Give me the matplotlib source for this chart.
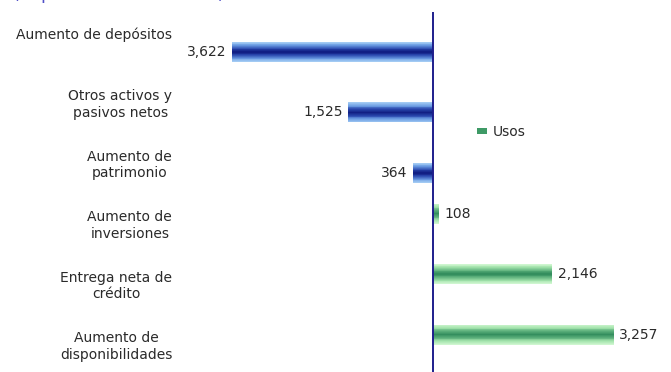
import matplotlib
matplotlib.use("Agg")
import matplotlib.pyplot as plt
from matplotlib.colors import LinearSegmentedColormap
from matplotlib.patches import Patch
import numpy as np

# Categories (top to bottom)
categories = [
    "Aumento de depósitos",
    "Otros activos y\npasivos netos",
    "Aumento de\npatrimonio",
    "Aumento de\ninversiones",
    "Entrega neta de\ncrédito",
    "Aumento de\ndisponibilidades",
]
# Sources (drawn to the left of zero) and uses (drawn to the right)
fuentes = [3622, 1525, 364, 0, 0, 0]
usos = [0, 0, 0, 108, 2146, 3257]

title_text = "(Expresado en millones)"
legend_label = "Usos"

W, H = 671, 372
fig = plt.figure(figsize=(W / 100, H / 100), dpi=100)

# axes placement in pixels
zero_px = 433.0
px_per_unit = 201.0 / 3622.0
xmin, xmax = -4500, 4000
left_px = zero_px + xmin * px_per_unit
width_px = (xmax - xmin) * px_per_unit
top_px, bottom_px = 11.75, 374.75
ax = fig.add_axes([left_px / W, 1 - bottom_px / H, width_px / W, (bottom_px - top_px) / H])

blue_cmap = LinearSegmentedColormap.from_list(
    "blue_bar", ["#0E1A7E", "#2A48AE", "#6D9FE4", "#A9D0F5"])
green_cmap = LinearSegmentedColormap.from_list(
    "green_bar", ["#2E8A5A", "#5DB07C", "#A3E3AC", "#D4F8D4"])

bar_h = 0.33
n_slices = 24
y = np.arange(len(categories))


def shaded_barh(ypos, value, cmap):
    """Horizontal bar with a cylinder-like shading across its height."""
    if value == 0:
        return
    step = bar_h / n_slices
    for k in range(n_slices):
        t = abs(2 * (k + 0.5) / n_slices - 1)
        yc = ypos - bar_h / 2 + (k + 0.5) * step
        ax.barh(yc, value, height=step * 1.08, color=cmap(t), linewidth=0)


label_color = "#2a2a2a"
for i in range(len(categories)):
    if fuentes[i]:
        yy = y[i] + bar_h / 2
        shaded_barh(yy, -fuentes[i], blue_cmap)
        ax.annotate(f"{fuentes[i]:,}", xy=(-fuentes[i], yy), xytext=(-4, 0),
                    textcoords="offset points", ha="right", va="center",
                    fontsize=10, color=label_color)
    if usos[i]:
        yy = y[i] - bar_h / 2
        shaded_barh(yy, usos[i], green_cmap)
        ax.annotate(f"{usos[i]:,}", xy=(usos[i], yy), xytext=(4, 0),
                    textcoords="offset points", ha="left", va="center",
                    fontsize=10, color=label_color)

ax.set_xlim(xmin, xmax)
ax.set_ylim(len(categories) - 0.5, -0.5)
ax.axvline(0, color="#1E1E8C", lw=1.4, zorder=5)

for s in ax.spines.values():
    s.set_visible(False)
ax.set_xticks([])
ax.set_yticks([])
ax.patch.set_alpha(0)

# category labels, right-aligned left of the plot area
trans = ax.get_yaxis_transform()
for i, name in enumerate(categories):
    dy = 5 if "\n" not in name else -1.5
    ax.annotate(name, xy=(0, y[i]), xycoords=trans, xytext=(-8, dy),
                textcoords="offset points", ha="right", va="center",
                multialignment="center", fontsize=10, color=label_color,
                annotation_clip=False)

fig.legend(handles=[Patch(facecolor="#3E9A66", edgecolor="none", label=legend_label)],
           loc="center left", bbox_to_anchor=(477 / W, 1 - 132 / H),
           frameon=False, fontsize=10, handlelength=0.7, handleheight=0.35,
           handletextpad=0.4, borderpad=0, borderaxespad=0,
           labelcolor=label_color)

fig.text(13 / W, 1 + 0.5 / H, title_text, fontsize=12.5, color="#5050C8",
         ha="left", va="baseline")

fig.savefig("out.png", dpi=100)
